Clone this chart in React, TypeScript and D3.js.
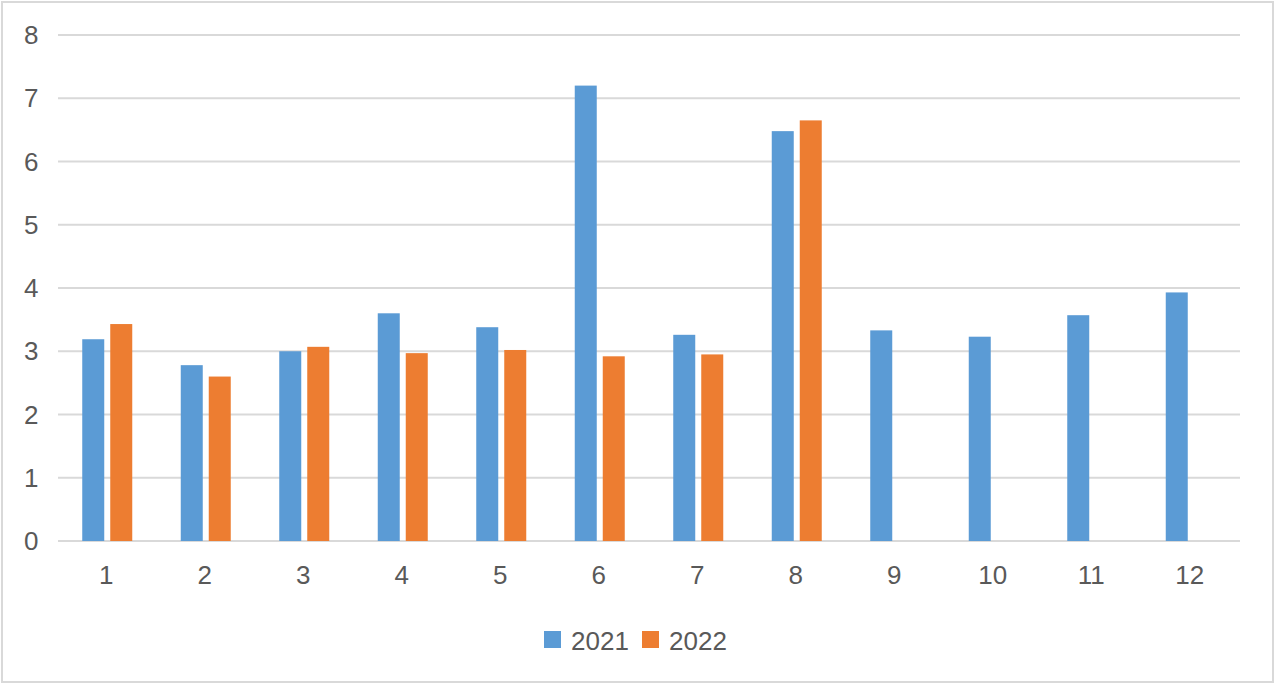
import React from "react";
import * as d3 from "d3";

const categories = ["1", "2", "3", "4", "5", "6", "7", "8", "9", "10", "11", "12"];
const seriesNames = ["2021", "2022"];
const values2021 = [3.19, 2.78, 3.0, 3.6, 3.38, 7.2, 3.26, 6.48, 3.33, 3.23, 3.57, 3.93];
const values2022: (number | null)[] = [3.43, 2.6, 3.07, 2.97, 3.02, 2.92, 2.95, 6.65, null, null, null, null];
const yTicks = [0, 1, 2, 3, 4, 5, 6, 7, 8];
const colors = ["#5b9bd5", "#ed7d31"];

const W = 1280;
const H = 685;
const plotLeft = 58;
const plotRight = 1240;
const plotTop = 35;
const plotBottom = 541;
const FONT = "Helvetica, Arial, 'Liberation Sans', sans-serif";
const TEXT = "#595959";
const GRID = "#d9d9d9";
const FS = 26;

export default function App() {
  const x0 = d3.scaleBand<string>().domain(categories).range([plotLeft, plotRight]).paddingInner(0).paddingOuter(0);
  const groupW = 50;
  const x1 = d3.scaleBand<string>().domain(seriesNames).range([0, groupW]).paddingInner(6 / 28).paddingOuter(0);
  const y = d3.scaleLinear().domain([0, 8]).range([plotBottom, plotTop]);
  const data = [values2021, values2022];

  const legendSq = 17;
  const legendItemW = [98, 98];
  const legendStart = 544;

  return (
    <div style={{ position: "absolute", left: 0, top: 0 }}>
      <svg width={W} height={H} style={{ display: "block" }} fontFamily={FONT}>
        <rect x={0} y={0} width={W} height={H} fill="#ffffff" />
        <rect x={2} y={2} width={1271} height={680} fill="none" stroke={GRID} strokeWidth={2} />
        {yTicks.map((t) => (
          <g key={t}>
            <line x1={plotLeft} x2={plotRight} y1={y(t)} y2={y(t)} stroke={GRID} strokeWidth={2} />
            <text x={38.5} y={y(t)} dy="0.35em" textAnchor="end" fontSize={FS} fill={TEXT}>
              {t}
            </text>
          </g>
        ))}
        {categories.map((c, ci) => {
          const cx = (x0(c) as number) + x0.bandwidth() / 2;
          return (
            <g key={c}>
              {seriesNames.map((s, si) => {
                const v = data[si][ci];
                if (v == null) return null;
                const bx = cx - groupW / 2 + (x1(s) as number);
                return (
                  <rect
                    key={s}
                    x={bx}
                    y={y(v)}
                    width={x1.bandwidth()}
                    height={y(0) - y(v)}
                    fill={colors[si]}
                  />
                );
              })}
              <text x={cx - 1} y={584} textAnchor="middle" fontSize={FS} fill={TEXT}>
                {c}
              </text>
            </g>
          );
        })}
        {seriesNames.map((s, si) => {
          const lx = legendStart + legendItemW.slice(0, si).reduce((a, b) => a + b, 0);
          return (
            <g key={s}>
              <rect x={lx} y={631} width={legendSq} height={legendSq} fill={colors[si]} />
              <text x={lx + legendSq + 10} y={650} fontSize={FS} fill={TEXT}>
                {s}
              </text>
            </g>
          );
        })}
      </svg>
    </div>
  );
}
